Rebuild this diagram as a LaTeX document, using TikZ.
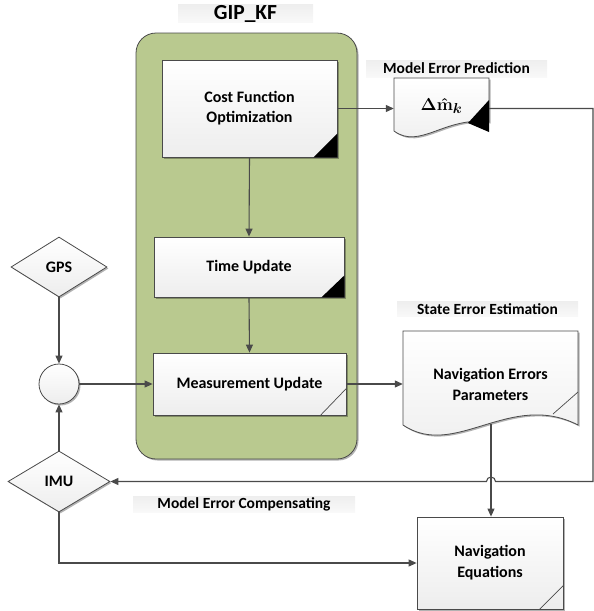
\documentclass[tikz,border=0pt]{standalone}
\usepackage{fontspec}
\setmainfont{Carlito}
\usetikzlibrary{arrows.meta,shapes.geometric,shadows}
\definecolor{linec}{HTML}{4A4A4A}
\definecolor{kfgreen}{RGB}{185,201,143}
\begin{document}
\begin{tikzpicture}[x=1pt,y=-1pt,
  arr/.style={draw=linec, line width=1.1pt, -{Triangle[length=8pt,width=7pt]}},
  shad/.style={drop shadow={shadow xshift=1.5pt, shadow yshift=-1.5pt, fill=black, opacity=0.3}},
  txt/.style={font=\fontsize{16}{20}\selectfont\bfseries, align=center},
  proc/.style={rectangle, draw=linec, line width=0.8pt, top color=white, bottom color=gray!14, shad, txt, inner sep=0pt},
  lbl/.style={rectangle, top color=gray!13, bottom color=gray!5, inner sep=0pt, font=\fontsize{15.5}{18}\selectfont\bfseries},
  dia/.style={diamond, draw=linec, line width=0.8pt, top color=white, bottom color=gray!14, shad, txt, inner sep=0pt},
  fold/.style={draw=linec, line width=0.7pt}
]
\useasboundingbox (0,0) rectangle (594,611);

% container
\path[fill=kfgreen, draw=linec, line width=0.8pt, rounded corners=20pt, shad] (136,33) rectangle (357,459);

% labels
\node[lbl, minimum width=135, minimum height=18, font=\fontsize{21.5}{24}\selectfont\bfseries] (gip) at (245.5,13.5) {GIP\_KF};
\node[lbl, minimum width=181, minimum height=17] (mepl) at (456.5,68.5) {Model Error Prediction};
\node[lbl, minimum width=181, minimum height=15] (seel) at (487.5,309) {State Error Estimation};
\node[lbl, minimum width=222, minimum height=16] (mecl) at (244,504) {Model Error Compensating};

% process boxes
\node[proc, minimum width=175, minimum height=97] (cfo) at (249.5,108.5) {Cost Function\\Optimization};
\node[proc, minimum width=190, minimum height=60] (tu) at (249,267) {Time Update};
\node[proc, minimum width=193, minimum height=62] (mu) at (249.5,384) {Measurement Update};
\node[proc, minimum width=146, minimum height=92, font=\fontsize{16}{21}\selectfont\bfseries] (naveq) at (490,563) {Navigation\\Equations};

\fill[black] (cfo.south east) -- ++(-24,0) -- ++(24,-24) -- cycle;
\fill[black] (tu.south east) -- ++(-23,0) -- ++(23,-22) -- cycle;
\draw[fold] ([xshift=-26pt]mu.south east) -- ([yshift=27pt]mu.south east);
\draw[fold] ([xshift=-24pt]naveq.south east) -- ([yshift=24pt]naveq.south east);

% GPS, IMU, junction
\node[dia, minimum width=96, minimum height=60] (gps) at (59,267) {GPS};
\node[dia, minimum width=102, minimum height=61] (imu) at (59,481.5) {IMU};
\node[circle, draw=linec, line width=0.8pt, top color=white, bottom color=gray!14, shad, minimum size=40, inner sep=0pt] (sum) at (59,384) {};

% document: model error prediction
\shade[top color=white, bottom color=gray!14, draw=linec, line width=0.8pt, shad]
  (394,78) -- (489,78) -- (489,122) .. controls (445,116) and (420,150) .. (394,131) -- cycle;
\fill[black] (489,100) -- (489,132) -- (468,123) -- cycle;
\node[minimum width=95, minimum height=60, inner sep=0pt, font=\fontsize{19}{22}\selectfont\boldmath] (mep) at (441.5,106) {$\Delta\hat{\mathbf{m}}_{k}$};

% document: navigation errors parameters
\shade[top color=white, bottom color=gray!14, draw=linec, line width=0.8pt, shad]
  (403,331) -- (578,331) -- (578,425) .. controls (510,390) and (455,460) .. (403,425) -- cycle;
\draw[fold] (553,414) -- (578,392);
\node[txt, minimum width=175, minimum height=106, inner sep=0pt, font=\fontsize{16}{21}\selectfont\bfseries] (ne) at (490.5,384) {Navigation Errors\\Parameters};

% connectors
\draw[arr] (cfo.south) -- (tu.north);
\draw[arr] (tu.south) -- (mu.north);
\draw[arr] (cfo.east) -- (cfo.east -| mep.west);
\draw[arr] (gps.south) -- (sum.north);
\draw[arr] (imu.north) -- (sum.south);
\draw[arr] (sum.east) -- (mu.west);
\draw[arr] (mu.east) -- (ne.west);
\coordinate (neb) at (491,424);
\draw[arr] (neb) -- (neb |- naveq.north);
\draw[arr] (imu.south) |- (naveq.west);
\coordinate (fb1) at (593,108.5);
\coordinate (fb2) at (593,481.5);
\coordinate (hopR) at (495.5,481.5);
\draw[arr] (cfo.east -| mep.east) -- (fb1) -- (fb2) -- (hopR) arc[start angle=0, end angle=-180, radius=4.5] -- (imu.east);
\end{tikzpicture}
\end{document}
